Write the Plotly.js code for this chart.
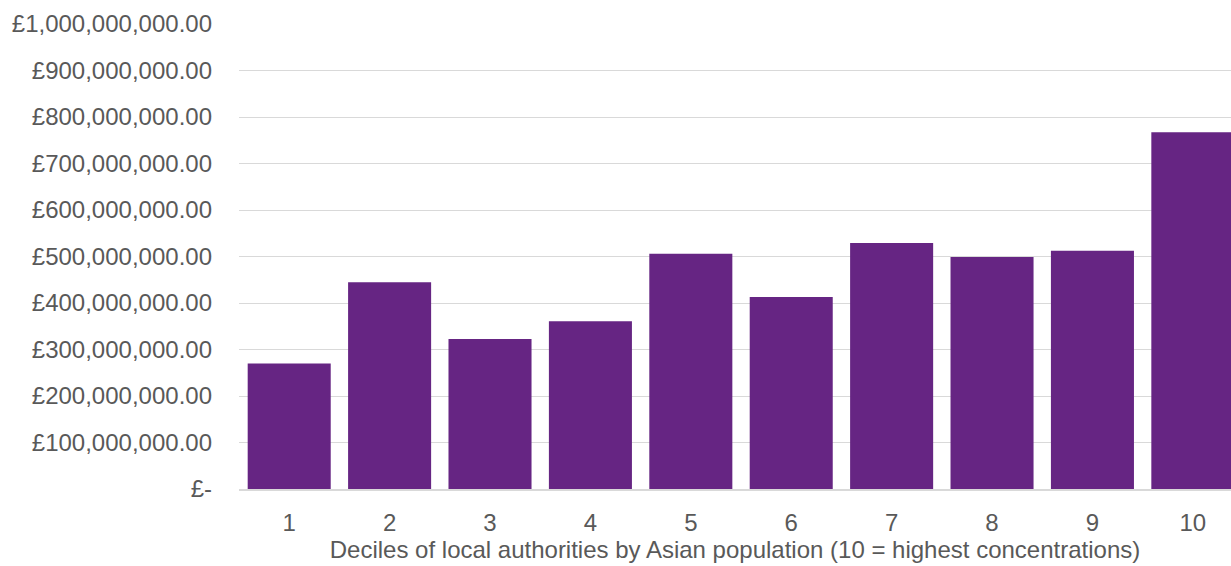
<!DOCTYPE html>
<html>
<head>
<meta charset="utf-8">
<script src="https://cdn.plot.ly/plotly-3.0.1.min.js"></script>
<style>html,body{margin:0;padding:0;overflow:hidden;background:#fff}#chart{width:1231px;height:566px}</style>
</head>
<body>
<div id="chart"></div>
<script>
const deciles = ['1','2','3','4','5','6','7','8','9','10'];
const spending = [270000000, 444500000, 322600000, 361000000, 506000000, 413000000, 529000000, 499000000, 512500000, 767000000];
const yTickVals = [0, 100000000, 200000000, 300000000, 400000000, 500000000, 600000000, 700000000, 800000000, 900000000, 1000000000];
const yTickLabels = ['£-', '£100,000,000.00', '£200,000,000.00', '£300,000,000.00', '£400,000,000.00', '£500,000,000.00', '£600,000,000.00', '£700,000,000.00', '£800,000,000.00', '£900,000,000.00', '£1,000,000,000.00'];
const xTitle = 'Deciles of local authorities by Asian population (10 = highest concentrations)';

const font = {family: 'Liberation Sans, Arial, sans-serif', size: 24, color: '#595959'};
Plotly.newPlot('chart', [{
  type: 'bar',
  x: deciles,
  y: spending,
  marker: {color: '#662583', line: {width: 0}},
  hoverinfo: 'x+y'
}], {
  width: 1231, height: 566,
  margin: {l: 239, r: 0, t: 24, b: 77, pad: 0},
  paper_bgcolor: '#fff', plot_bgcolor: '#fff',
  bargap: 0.173,
  showlegend: false,
  font: font,
  xaxis: {
    type: 'category',
    range: [-0.5, 9.38],
    showgrid: false,
    showline: true, linecolor: '#D9D9D9', linewidth: 1.5,
    ticks: '', tickfont: font,
    ticklabelstandoff: 12,
    title: {text: xTitle, font: font, standoff: 4}
  },
  yaxis: {
    range: [0, 1000000000],
    tickvals: yTickVals, ticktext: yTickLabels,
    showgrid: true, gridcolor: '#D9D9D9', gridwidth: 1,
    zeroline: false, showline: false,
    ticks: '', tickfont: font,
    ticklabelstandoff: 26
  }
}, {displayModeBar: false, staticPlot: true});
</script>
</body>
</html>
